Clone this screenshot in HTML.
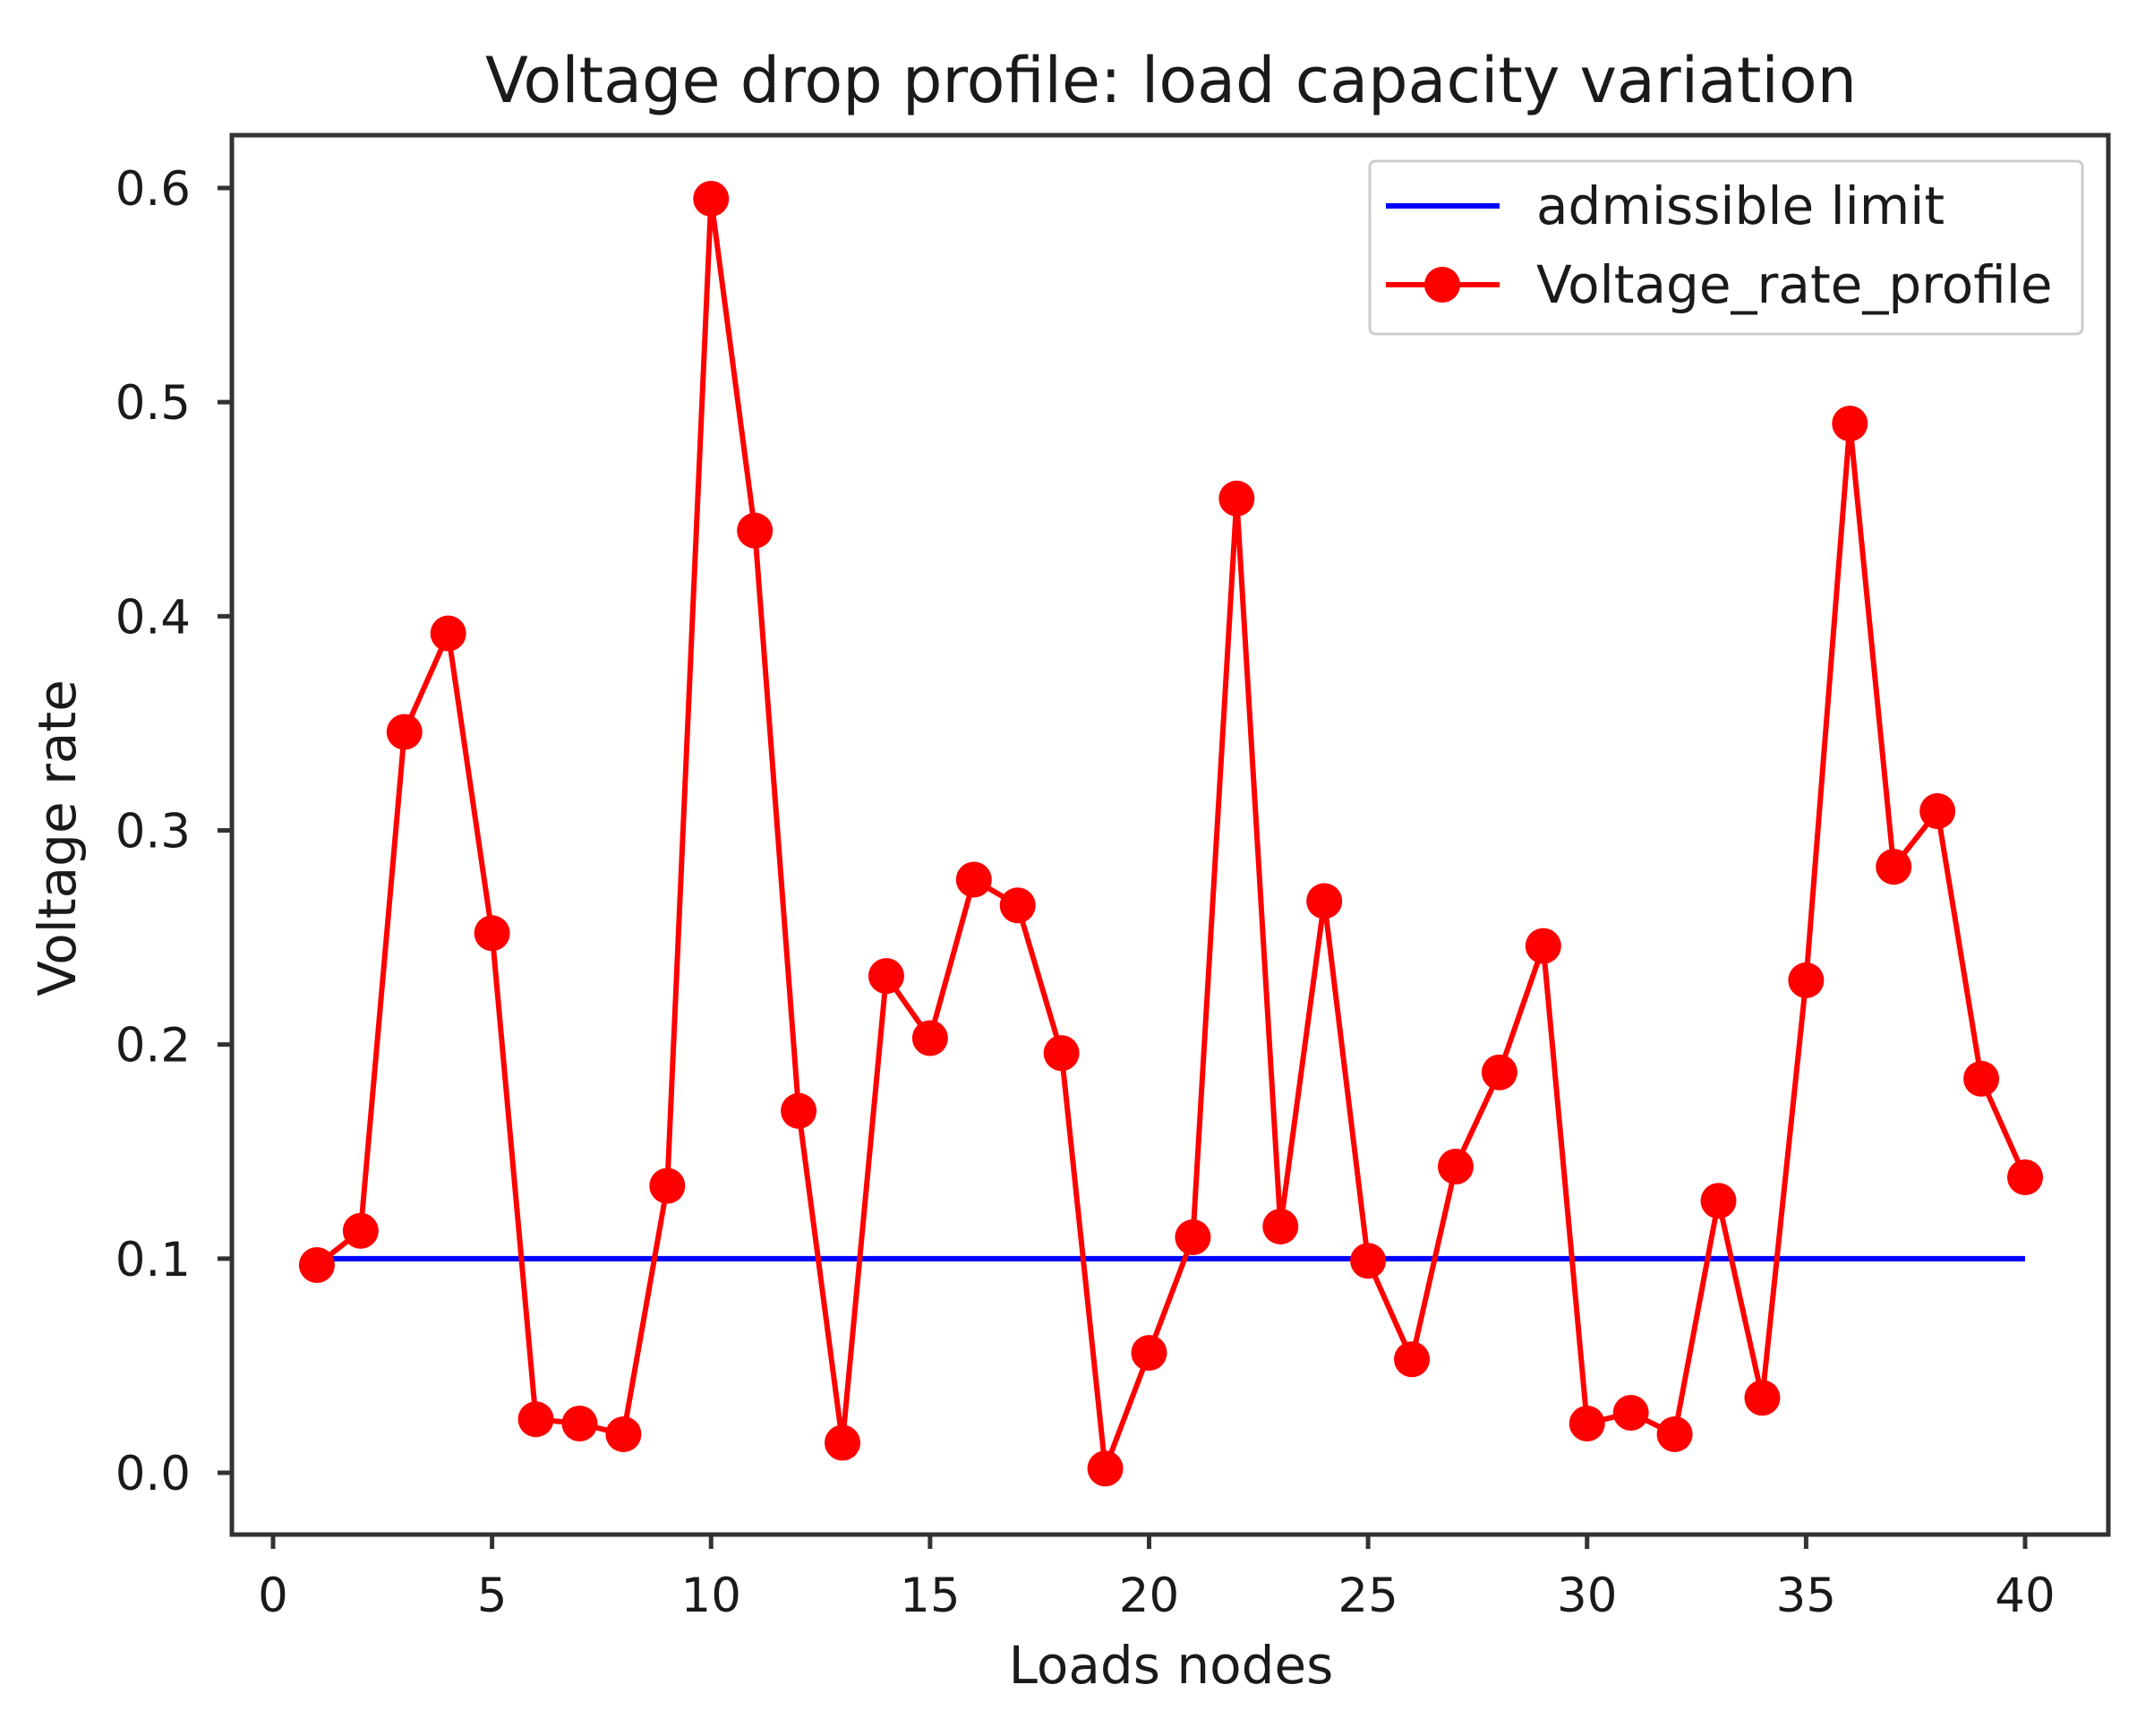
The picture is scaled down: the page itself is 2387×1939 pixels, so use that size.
<!DOCTYPE html>
<html><head><meta charset="utf-8"><style>
body{margin:0;background:#fff}
svg text{font-family:"DejaVu Sans","Liberation Sans",sans-serif;fill:#1a1a1a}
</style></head><body>
<svg id="chart" width="2387" height="1934" xmlns="http://www.w3.org/2000/svg">
<text x="1308" y="114" font-size="70" text-anchor="middle">Voltage drop profile: load capacity variation</text>
<g id="marks"></g>
<rect x="259" y="151" width="2096" height="1563" fill="none" stroke="#333" stroke-width="5"/>
<g id="axes"></g>
<text x="1308" y="1880" font-size="58" text-anchor="middle">Loads nodes</text>
<text transform="translate(84,936) rotate(-90)" font-size="58" text-anchor="middle">Voltage rate</text>
<g>
<rect x="1530" y="180" width="796" height="193" rx="6" fill="#fff" stroke="#ccc" stroke-width="3"/>
<line x1="1548" y1="230" x2="1675" y2="230" stroke="#0000ff" stroke-width="6"/>
<text x="1716" y="250" font-size="58">admissible limit</text>
<line x1="1548" y1="318" x2="1675" y2="318" stroke="#ff0000" stroke-width="6"/>
<circle cx="1611" cy="318" r="20" fill="#ff0000"/>
<text x="1716" y="338" font-size="58">Voltage_rate_profile</text>
</g>
</svg>
<script>
const nodes=[1,2,3,4,5,6,7,8,9,10,11,12,13,14,15,16,17,18,19,20,21,22,23,24,25,26,27,28,29,30,31,32,33,34,35,36,37,38,39,40];
const voltageRate=[0.097,0.113,0.346,0.392,0.252,0.025,0.023,0.018,0.134,0.595,0.44,0.169,0.014,0.232,0.203,0.277,0.265,0.196,0.002,0.056,0.11,0.455,0.115,0.267,0.099,0.053,0.143,0.187,0.246,0.023,0.028,0.018,0.127,0.035,0.23,0.49,0.283,0.309,0.184,0.138];
const limitValue=0.1;
const xTicks=[0,5,10,15,20,25,30,35,40];
const yTicks=[0.0,0.1,0.2,0.3,0.4,0.5,0.6];
const NS="http://www.w3.org/2000/svg";
function X(v){return 305+(v-0)*(2262-305)/40;}
function Y(v){return 1645-v*(1645-210)/0.6;}
const marks=document.getElementById('marks'),axes=document.getElementById('axes');
function mk(tag,attrs,parent){const e=document.createElementNS(NS,tag);for(const k in attrs)e.setAttribute(k,attrs[k]);parent.appendChild(e);return e;}
xTicks.forEach(t=>{
 const l=mk('line',{x1:X(t),y1:1714,x2:X(t),y2:1730,stroke:'#333','stroke-width':5},axes);
 
 
 const tx=mk('text',{x:X(t),y:1800,'font-size':53,'text-anchor':'middle'},axes);tx.textContent=t;
 
 
});
yTicks.forEach(t=>{
 const l=mk('line',{x1:243,y1:Y(t),x2:259,y2:Y(t),stroke:'#333','stroke-width':5},axes);
 
 
 const tx=mk('text',{x:213,y:Y(t)+19,'font-size':53,'text-anchor':'end'},axes);tx.textContent=t.toFixed(1);
 
 
});
const lim=mk('line',{x1:X(nodes[0]),y1:Y(limitValue),x2:X(nodes[nodes.length-1]),y2:Y(limitValue),stroke:'#0000ff','stroke-width':6},marks);


const pl=mk('polyline',{points:nodes.map((n,i)=>X(n)+','+Y(voltageRate[i])).join(' '),fill:'none',stroke:'#ff0000','stroke-width':6,'stroke-linejoin':'round'},marks);


nodes.forEach((n,i)=>{
 const c=mk('circle',{cx:X(n),cy:Y(voltageRate[i]),r:20,fill:'#ff0000'},marks);
 
 
});
</script>
</body></html>
